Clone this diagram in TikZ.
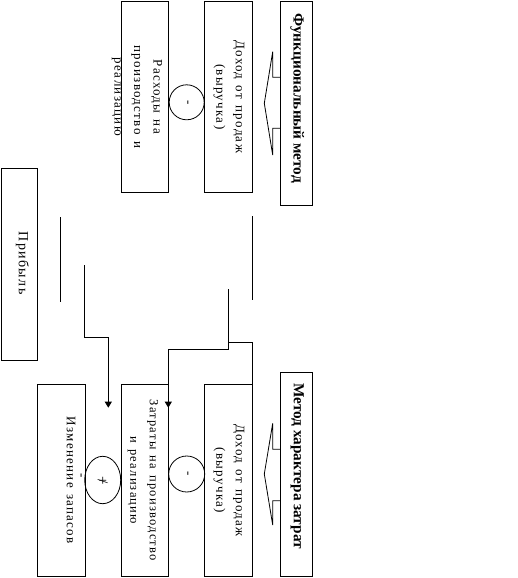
\documentclass[tikz,border=0pt]{standalone}
\usepackage{fontspec}
\setmainfont{Liberation Serif}[LetterSpace=10,WordSpace=1.4]
\newfontfamily\titlefont{Liberation Serif}
\usetikzlibrary{arrows.meta,shapes.geometric}
\begin{document}
\begin{tikzpicture}[x=1pt,y=-1pt,line width=0.8pt,
  box/.style={draw,rotate=-90,inner sep=0pt},
  txt/.style={rotate=-90,inner sep=0pt,align=center,font=\fontsize{13}{19.5}\selectfont},
  titletxt/.style={rotate=-90,inner sep=0pt,anchor=west,font=\titlefont\bfseries\fontsize{15.3}{17}\selectfont},
  sign/.style={draw,circle,inner sep=0pt,minimum size=35pt},
  lbl/.style={rotate=-90,inner sep=0pt,font=\fontsize{13}{14}\selectfont},
  arr/.style={-{Triangle[width=7pt,length=6pt]}}]
\fill[white] (0,0) rectangle (517,578);
\useasboundingbox (0,0) rectangle (517,578);

% top row
\node[box,minimum width=204.3pt,minimum height=32pt] (fm) at (296.3,103.2) {};
\node[titletxt] (fmt) at (297.3,12.7) {Функциональный метод};
\node[box,minimum width=191pt,minimum height=48pt] (d1) at (228.3,96.8) {};
\node[txt] (d1t) at (229,96.8) {Доход от продаж\\(выручка)};
\node[box,minimum width=191pt,minimum height=47pt] (r1) at (144.8,96.8) {};
\node[txt] (r1t) at (137,96.8) {Расходы на\\производство и\\реализацию};
\node[sign] (c1) at (186.7,102.3) {};
\node[lbl] (m1) at (c1.center) {-};
\draw (fm.south west |- 0,77.3) -- (272.7,77.3) -- (272.7,51.7) -- (264.3,103.3) -- (272.7,155) -- (272.7,128.3) -- (fm.south west |- 0,128.3);

% profit
\node[box,minimum width=192pt,minimum height=35.6pt] (pr) at (19.5,264.3) {};
\node[txt,font=\fontsize{14}{16}\selectfont] (prt) at (22.5,263) {Прибыль};

% bottom row
\node[box,minimum width=204pt,minimum height=32pt] (mx) at (296.3,474.3) {};
\node[titletxt] (mxt) at (297.3,382.7) {Метод характера затрат};
\node[box,minimum width=192pt,minimum height=48pt] (d2) at (228.3,480.3) {};
\node[txt] (d2t) at (229,480.3) {Доход от продаж\\(выручка)};
\node[box,minimum width=192pt,minimum height=47pt] (z2) at (144.8,480.3) {};
\node[txt,font=\fontsize{12.5}{19.5}\selectfont] (z2t) at (143,480.3) {Затраты на производство\\и реализацию};
\node[box,minimum width=192pt,minimum height=48pt] (iz) at (61.3,480.3) {};
\node[txt] (izt) at (71,480.3) {Изменение запасов};
\node[sign,minimum size=36pt] (c2) at (186.7,474) {};
\node[lbl] (m2) at (c2.center) {-};
\node[draw,ellipse,inner sep=0pt,minimum width=36pt,minimum height=47.4pt] (c3) at (102.7,480) {};
\node[lbl,font=\fontsize{15}{15}\selectfont] (pm) at (c3.center) {+\kern-6pt/};
\node[lbl] (mm) at (80,476) {-};
\draw (mx.south west |- 0,449.3) -- (272.7,449.3) -- (272.7,423.3) -- (264.3,474) -- (272.7,525) -- (272.7,500.7) -- (mx.south west |- 0,500.7);

% connectors
\coordinate (a1) at (60.3,217);
\coordinate (a2) at (60.3,301.7);
\draw (a1) -- (a2);
\coordinate (b1) at (252.3,216);
\coordinate (b2) at (252.3,300.3);
\draw (b1) -- (b2);
\coordinate (s3) at (84.3,265);
\coordinate (e3) at (108.3,407.7);
\draw[arr] (s3) |- (108.3,337) -- (e3);
\coordinate (s4) at (228.3,289);
\coordinate (e4) at (168.3,407.7);
\draw[arr] (s4) |- (168.3,349.3) -- (e4);
\coordinate (e5) at (228.3,342.3);
\draw (d2.north west) |- (e5);
\end{tikzpicture}
\end{document}
